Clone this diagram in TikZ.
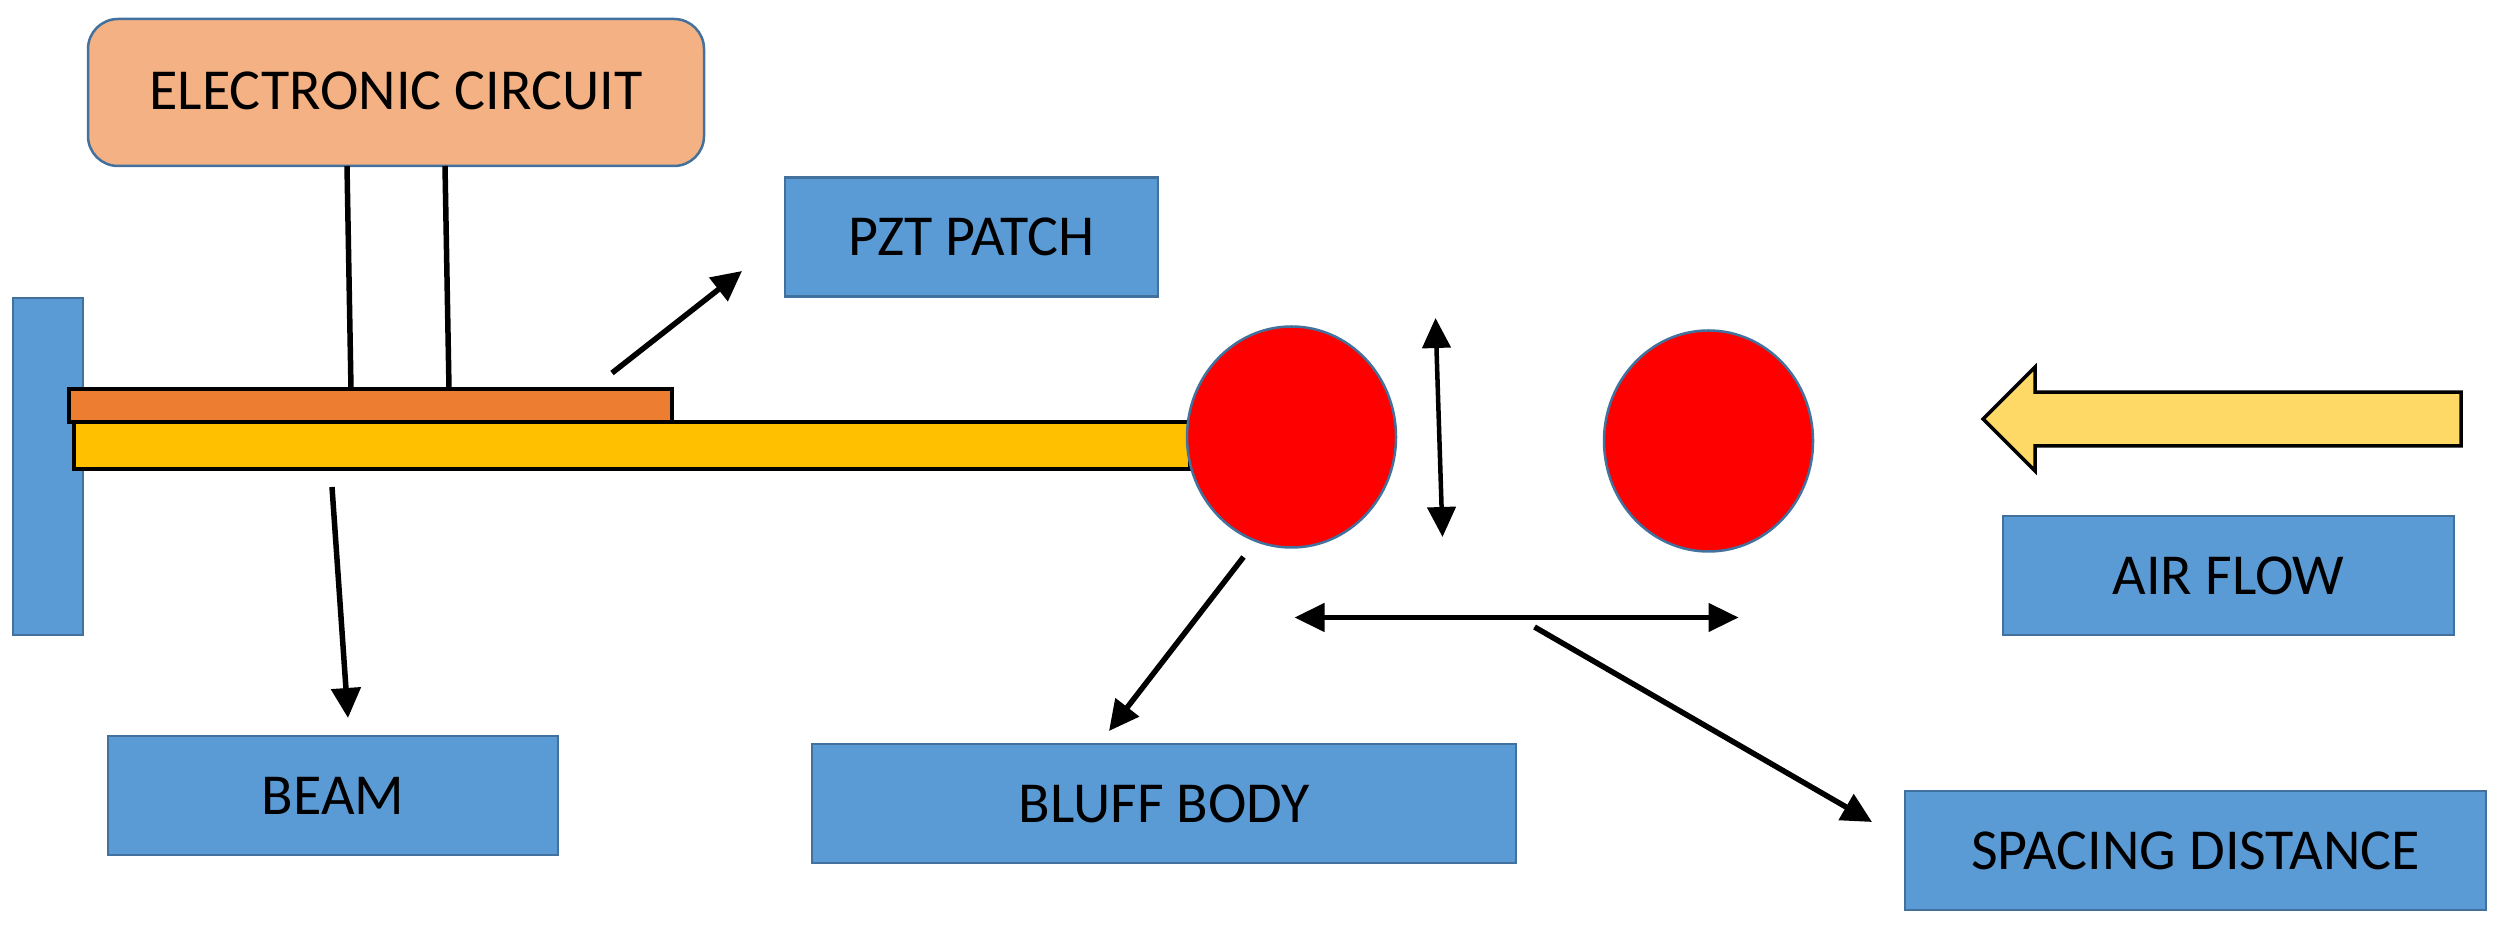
\documentclass[tikz,border=0pt]{standalone}
\usepackage{fontspec}
\setmainfont{Carlito}
\usetikzlibrary{arrows.meta,positioning,shapes.geometric,shapes.arrows}
\definecolor{tagblue}{HTML}{5B9BD5}
\definecolor{edgeblue}{HTML}{41719C}
\definecolor{circuitpeach}{HTML}{F4B183}
\definecolor{patchorange}{HTML}{ED7D31}
\definecolor{beamamber}{HTML}{FFC000}
\definecolor{airyellow}{HTML}{FFD966}

\begin{document}
\begin{tikzpicture}[x=1mm,y=1mm,
tag/.style={rectangle,fill=tagblue,draw=edgeblue,line width=.25mm,outer sep=0pt,
font=\fontsize{16.5}{19}\selectfont,align=center,minimum height=11.9mm},
strip/.style={rectangle,draw=black,line width=.4mm,outer sep=0pt,inner sep=0pt},
bluff/.style={ellipse,fill=red,draw=edgeblue,line width=.25mm,outer sep=0pt,inner sep=0pt,
minimum width=20.9mm,minimum height=22.1mm},
wire/.style={line width=.55mm},
lead/.style={-{Triangle[length=3mm,width=2.9mm]},line width=.55mm},
span/.style={{Triangle[length=3mm,width=2.8mm]}-{Triangle[length=3mm,width=2.8mm]},line width=.45mm}
]
\useasboundingbox (0,0) rectangle (250.2,-92.8);

\node[rectangle,fill=tagblue,draw=edgeblue,line width=.25mm,outer sep=0pt,inner sep=0pt,
minimum width=7mm,minimum height=33.7mm] (wall) at (4.8,-46.65) {};
\node[strip,fill=beamamber,minimum width=111.6mm,minimum height=4.7mm,right=-.9mm of wall,yshift=2.1mm] (rod) {};
\node[strip,fill=patchorange,minimum width=60.3mm,minimum height=3.3mm,
above=0mm of rod.north west,anchor=south west,xshift=-.5mm] (patch) {};
\node[bluff,right=-.3mm of rod,yshift=.85mm] (bluffa) {};
\node[bluff,right=20.8mm of bluffa,yshift=-.4mm] (bluffb) {};

\node[rectangle,rounded corners=3mm,fill=circuitpeach,draw=edgeblue,line width=.25mm,outer sep=0pt,
font=\fontsize{16.5}{19}\selectfont,minimum width=61.6mm,minimum height=14.7mm,
above=22.3mm of patch,xshift=2.55mm] (circuit) {\raisebox{.4mm}{ELECTRONIC CIRCUIT}};
\node[tag,minimum width=37.3mm,right=8.1mm of circuit,yshift=-14.45mm] (patchtag) {PZT PATCH};
\node[tag,minimum width=45mm,below right=10.1mm and 2.5mm of wall] (beamtag) {BEAM};
\node[tag,minimum width=70.4mm,right=25.4mm of beamtag,yshift=-.8mm] (bodytag) {BLUFF BODY};
\node[tag,minimum width=58.1mm,right=38.9mm of bodytag,yshift=-4.7mm] (spacetag) {SPACING DISTANCE};
\node[tag,minimum width=45.1mm,above=15.6mm of spacetag,xshift=3.3mm] (airtag) {AIR FLOW};
\node[single arrow,shape border rotate=180,fill=airyellow,draw=black,line width=.35mm,outer sep=0pt,
inner xsep=0pt,inner ysep=2.5mm,
minimum height=47.8mm,minimum width=10.4mm,single arrow head extend=2.5mm,
right=17mm of bluffb,yshift=2.2mm] (airarrow) {};

\coordinate (swingtop) at ([shift={(14.4mm,11.9mm)}]bluffa.center);
\coordinate (swingend) at ([shift={(15.1mm,-10mm)}]bluffa.center);
\coordinate (gapleft) at ([shift={(.3mm,-7mm)}]bluffa.south);
\coordinate (gapright) at ([shift={(3mm,-6.6mm)}]bluffb.south);
\coordinate (gaptail) at ([shift={(24.3mm,-19mm)}]bluffa.center);

\draw[wire] ([xshift=-4.9mm]circuit.south) -- ([xshift=-1.95mm]patch.north);
\draw[wire] ([xshift=4.9mm]circuit.south) -- ([xshift=7.85mm]patch.north);
\draw[lead] ([shift={(24.15mm,1.6mm)}]patch.north) -- ([shift={(-4.3mm,-3.4mm)}]patchtag.west);
\draw[lead] ([shift={(-30mm,-1.8mm)}]rod.south) -- ([shift={(1.5mm,1.8mm)}]beamtag.north);
\draw[lead] ([shift={(-4.8mm,-12mm)}]bluffa.center) -- ([shift={(-5.5mm,1.3mm)}]bodytag.north);
\draw[lead] (gaptail) -- ([shift={(-3.3mm,2.85mm)}]spacetag.west);
\draw[span] (swingtop) -- (swingend);
\draw[span] (gapleft) -- (gapright);
\end{tikzpicture}
\end{document}
